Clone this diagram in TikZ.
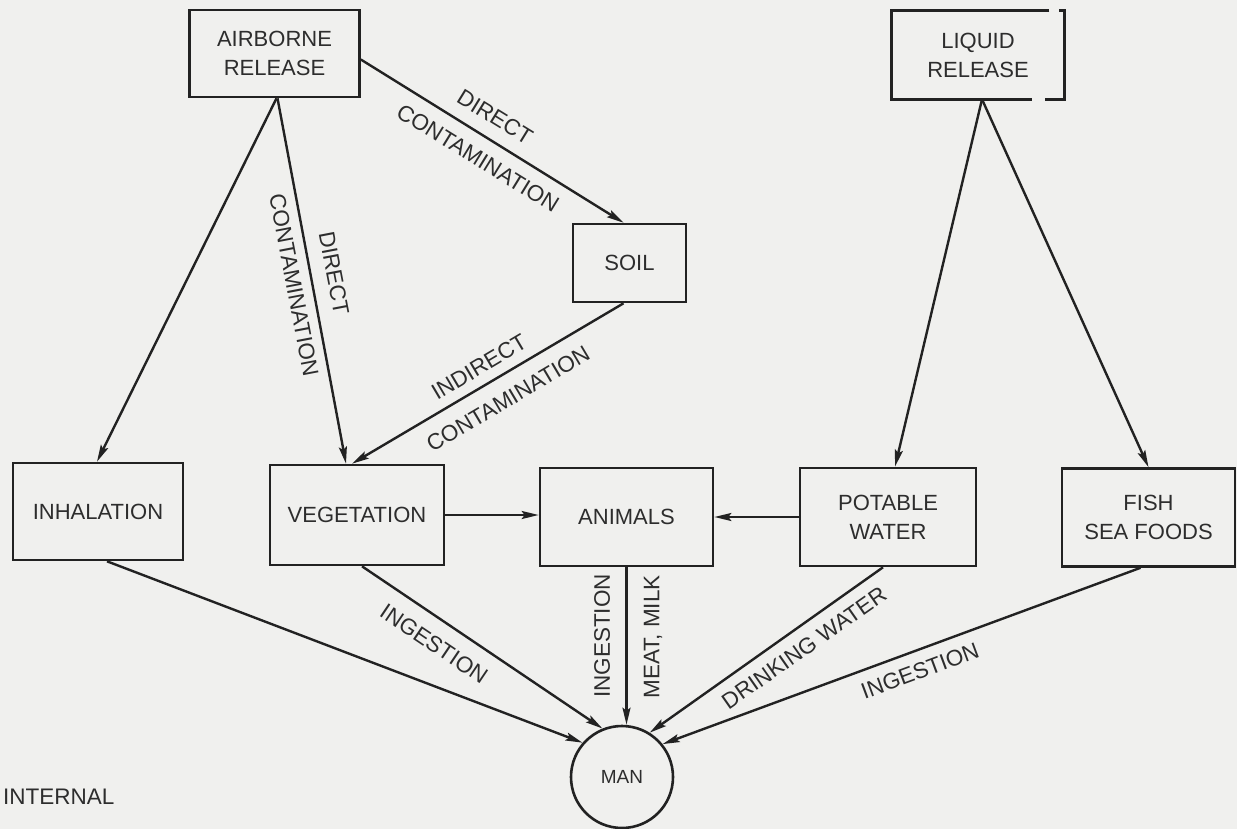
\documentclass[tikz,border=0pt]{standalone}
\usepackage{fontspec}
\setmainfont{Liberation Sans}
\usetikzlibrary{arrows.meta}
\definecolor{bg}{RGB}{240,240,238}
\definecolor{ink}{RGB}{34,34,34}
\definecolor{txt}{RGB}{45,45,45}
\begin{document}
\begin{tikzpicture}[x=1pt,y=-1pt,
  box/.style={draw=ink, line width=2.6pt, rectangle, inner sep=0pt, align=center, text=txt, font=\fontsize{22}{29}\selectfont},
  edgeline/.style={draw=ink, line width=2.6pt},
  lbl/.style={text=txt, font=\fontsize{22.5}{24}\selectfont, inner sep=0pt},
  arr/.style={draw=ink, line width=2.4pt, -{Stealth[length=17pt,width=8pt,inset=3pt]}},
]
\fill[bg] (0,0) rectangle (1237,829);
\useasboundingbox (0,0) rectangle (1237,829);

% boxes
\node[box, minimum width=170pt, minimum height=87pt] (air) at (274.5,53.5) {AIRBORNE\\RELEASE};
\node[box, draw=none, minimum width=170pt, minimum height=86pt] (liq) at (978,55) {LIQUID\\RELEASE};
\draw[edgeline] ([xshift=-15pt]liq.north east) -- (liq.north west) -- (liq.south west) -- ([xshift=-32pt]liq.south east);
\draw[edgeline] ([xshift=-5pt]liq.north east) -- (liq.north east) -- (liq.south east) -- ([xshift=-19pt]liq.south east);
\node[box, minimum width=113pt, minimum height=78pt] (soil) at (629.5,263) {SOIL};
\node[box, minimum width=170pt, minimum height=97pt] (inh) at (98,511.5) {INHALATION};
\node[box, minimum width=174pt, minimum height=100pt] (veg) at (357,515) {VEGETATION};
\node[box, minimum width=173pt, minimum height=98pt] (ani) at (626.5,517) {ANIMALS};
\node[box, minimum width=176pt, minimum height=98pt] (pot) at (888,517) {POTABLE\\WATER};
\node[box, minimum width=173pt, minimum height=98pt] (fish) at (1148.5,517.5) {FISH\\SEA FOODS};
\node[box, circle, minimum size=102pt, font=\fontsize{19}{22}\selectfont] (man) at (622,777) {MAN};

% connectors
\draw[arr] ([xshift=2pt]air.south) -- ([xshift=-1pt]inh.north);
\draw[arr] ([xshift=3pt]air.south) -- ([xshift=-11pt]veg.north);
\draw[arr] ([yshift=-6pt]air.east) -- ([xshift=-6pt]soil.north);
\draw[arr] ([xshift=-6pt]soil.south) -- ([xshift=-5pt]veg.north);
\draw[arr] ([xshift=4pt]liq.south) -- ([xshift=7pt]pot.north);
\draw[arr] ([xshift=4pt]liq.south) -- (fish.north);
\draw[arr] (veg.east) -- (veg.east -| ani.west);
\draw[arr] (pot.west) -- (pot.west -| ani.east);
\draw[arr] ([xshift=9pt]inh.south) -- (man.139);
\draw[arr] ([xshift=5pt]veg.south) -- (man.112);
\draw[arr] (ani.south) -- (ani.south |- man.north);
\draw[arr] ([xshift=-5pt]pot.south) -- (man.58);
\draw[arr] ([xshift=-8pt]fish.south) -- (man.39);

% labels
\node[lbl, rotate=-31.6] (l1) at (495,117) {DIRECT};
\node[lbl, rotate=-31.6] (l2) at (478,158) {CONTAMINATION};
\node[lbl, rotate=-79.2] (l3) at (334,273) {DIRECT};
\node[lbl, rotate=-79.2] (l4) at (294,285) {CONTAMINATION};
\node[lbl, rotate=30.7] (l5) at (479,367) {INDIRECT};
\node[lbl, rotate=30.7] (l6) at (508,399) {CONTAMINATION};
\node[lbl, rotate=-34] (l7) at (434,644) {INGESTION};
\node[lbl, rotate=90] (l8) at (602,636) {INGESTION};
\node[lbl, rotate=90] (l9) at (653,637) {MEAT, MILK};
\node[lbl, rotate=35] (l10) at (804,648) {DRINKING WATER};
\node[lbl, rotate=20.4] (l11) at (920,671) {INGESTION};
\node[lbl, anchor=west] (l12) at (3,797) {INTERNAL};
\end{tikzpicture}
\end{document}
